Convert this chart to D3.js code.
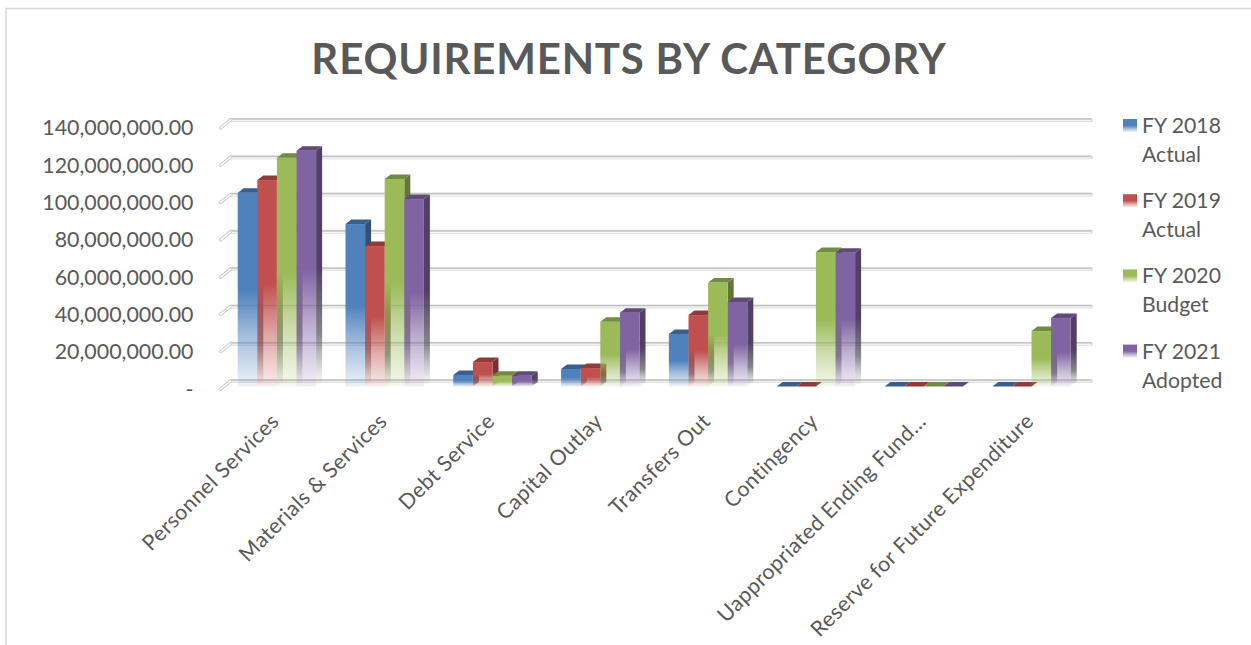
<!DOCTYPE html>
<html>
<head>
<meta charset="utf-8">
<script src="https://cdn.jsdelivr.net/npm/d3@7"></script>
<style>
  html, body { margin: 0; padding: 0; background: #fff; }
  svg { display: block; }
  text { font-family: Lato, "Open Sans", sans-serif; fill: #595959; }
</style>
</head>
<body>
<div id="chart"></div>
<script>
const categories = ["Personnel Services", "Materials & Services", "Debt Service", "Capital Outlay",
  "Transfers Out", "Contingency", "Uappropriated Ending Fund\u2026", "Reserve for Future Expenditure"];
const seriesNames = ["FY 2018 Actual", "FY 2019 Actual", "FY 2020 Budget", "FY 2021 Adopted"];
const seriesLines = [["FY 2018", "Actual"], ["FY 2019", "Actual"], ["FY 2020", "Budget"], ["FY 2021", "Adopted"]];
const colors = ["#4f81bd", "#c0504d", "#9bbb59", "#8064a2"];
const fy2018 = [103.9e6, 87.1e6, 6.2e6, 9.4e6, 28.2e6, 0, 0, 0];
const fy2019 = [110.7e6, 75.3e6, 13.1e6, 9.9e6, 38.3e6, 0, 0, 0];
const fy2020 = [122.7e6, 111.3e6, 5.8e6, 34.7e6, 55.7e6, 72.1e6, 0, 29.7e6];
const fy2021 = [126.4e6, 100.5e6, 5.8e6, 39.6e6, 45.3e6, 71.7e6, 0, 36.7e6];
const seriesValues = [fy2018, fy2019, fy2020, fy2021];
const tickValues = [0, 20e6, 40e6, 60e6, 80e6, 100e6, 120e6, 140e6];

const W = 1251, H = 645;
const svg = d3.select("#chart").append("svg").attr("width", W).attr("height", H);
const defs = svg.append("defs");

const y = d3.scaleLinear().domain([0, 140e6]).range([386.5, 125.4]);
const x0 = d3.scaleBand().domain(categories).range([223, 1085.4]).paddingInner(0.2727).paddingOuter(0.1364);
const x1 = d3.scaleBand().domain(d3.range(4)).range([0, x0.bandwidth()]);

const barDepth = { dx: 6, dy: 4.5 };   // extrusion of a bar
const wall = { back: -5.5, front: 2.6, dx: 8.5 };  // offsets of the back wall and floor edge from the bar plane

// Vertical fades shared by the front faces, side faces and legend keys
colors.forEach((c, i) => {
  const front = defs.append("linearGradient").attr("id", `front${i}`).attr("x1", 0).attr("x2", 0).attr("y1", 0).attr("y2", 1);
  front.append("stop").attr("offset", "50%").attr("stop-color", c).attr("stop-opacity", 1);
  front.append("stop").attr("offset", "75%").attr("stop-color", c).attr("stop-opacity", 0.5);
  front.append("stop").attr("offset", "100%").attr("stop-color", c).attr("stop-opacity", 0.1);
  const dark = d3.rgb(c).darker(1.3);
  const side = defs.append("linearGradient").attr("id", `side${i}`).attr("x1", 0).attr("x2", 0).attr("y1", 0).attr("y2", 1);
  side.append("stop").attr("offset", "50%").attr("stop-color", dark).attr("stop-opacity", 1);
  side.append("stop").attr("offset", "78%").attr("stop-color", "#55505a").attr("stop-opacity", 0.7);
  side.append("stop").attr("offset", "100%").attr("stop-color", "#777").attr("stop-opacity", 0);
});

// Back wall gridlines with their short returns toward the axis labels
const grid = svg.append("g").selectAll("g").data(tickValues).join("g");
const gx0 = x0.range()[0] - 2.5, gx1 = gx0 + wall.dx + 1.5, gxEnd = 1091;
grid.append("line").attr("x1", gx1).attr("x2", gxEnd)
  .attr("y1", d => y(d) + wall.back).attr("y2", d => y(d) + wall.back)
  .attr("stroke", "#dcdcdc").attr("stroke-width", 4).attr("stroke-linecap", "round");
grid.append("line").attr("x1", gx1).attr("x2", gxEnd)
  .attr("y1", d => y(d) + wall.back - 0.9).attr("y2", d => y(d) + wall.back - 0.9)
  .attr("stroke", "#bdbdbd").attr("stroke-width", 1);
grid.append("line").attr("x1", gx1).attr("x2", gxEnd)
  .attr("y1", d => y(d) + wall.back + 0.7).attr("y2", d => y(d) + wall.back + 0.7)
  .attr("stroke", "#f7f7f7").attr("stroke-width", 1);
grid.append("line").attr("x1", gx0).attr("x2", gx1)
  .attr("y1", d => y(d) + wall.front).attr("y2", d => y(d) + wall.back)
  .attr("stroke", "#cfcfcf").attr("stroke-width", 3.4).attr("stroke-linecap", "round");
grid.append("line").attr("x1", gx0).attr("x2", gx1)
  .attr("y1", d => y(d) + wall.front).attr("y2", d => y(d) + wall.back)
  .attr("stroke", "#fff").attr("stroke-width", 1.3).attr("stroke-linecap", "round");

// Extruded bars, left to right so each front face overlaps its neighbour's side
const bars = svg.append("g").selectAll("g")
  .data(categories.flatMap((cat, c) => d3.range(4).map(s => ({ cat, s, v: seriesValues[s][c] }))))
  .join("g");
const bx = d => x0(d.cat) + x1(d.s);
const w = x1.bandwidth();
const poly = pts => "M" + pts.map(p => p.join(",")).join("L") + "Z";

bars.filter(d => d.v > 0).append("path")
  .attr("d", d => poly([[bx(d) + w, y(d.v)], [bx(d) + w + barDepth.dx, y(d.v) - barDepth.dy],
    [bx(d) + w + barDepth.dx, y(0) - barDepth.dy], [bx(d) + w, y(0)]]))
  .attr("fill", d => `url(#side${d.s})`);
bars.filter(d => d.v > 0).append("rect")
  .attr("x", bx).attr("y", d => y(d.v)).attr("width", w).attr("height", d => y(0) - y(d.v))
  .attr("fill", d => `url(#front${d.s})`);
bars.append("path")
  .attr("d", d => poly([[bx(d), y(d.v)], [bx(d) + w, y(d.v)],
    [bx(d) + w + barDepth.dx, y(d.v) - barDepth.dy], [bx(d) + barDepth.dx, y(d.v) - barDepth.dy]]))
  .attr("fill", d => d3.rgb(colors[d.s]).darker(0.85));

// Value axis labels
svg.append("g").selectAll("text").data(tickValues).join("text")
  .attr("x", 193.5).attr("y", d => y(d) + wall.front)
  .attr("dy", "0.35em").attr("text-anchor", "end").attr("font-size", 21.4)
  .text(d => d === 0 ? "-" : d3.format(",.2f")(d));

// Category labels, slanted up toward their groups
svg.append("g").selectAll("text").data(categories).join("text")
  .attr("text-anchor", "end").attr("font-size", 21.3).attr("letter-spacing", 0.45)
  .attr("transform", d => `translate(${x0(d) + x0.bandwidth() / 2 - 7},${412}) rotate(-45)`)
  .attr("dy", "0.7em")
  .text(d => d);

// Title
svg.append("text").attr("x", 629).attr("y", 74).attr("text-anchor", "middle")
  .attr("font-size", 42).attr("font-weight", 700).attr("letter-spacing", 0.8)
  .text("REQUIREMENTS BY CATEGORY");

// Legend
const legend = svg.append("g").selectAll("g").data(seriesNames).join("g")
  .attr("transform", (d, i) => `translate(1123,${119 + i * 75.2})`);
legend.append("rect").attr("width", 14).attr("height", 13).attr("fill", (d, i) => `url(#front${i})`);
legend.selectAll("text").data((d, i) => seriesLines[i]).join("text")
  .attr("x", 19).attr("y", (d, i) => 14 + i * 29).attr("font-size", 21.2).text(d => d);

// Chart frame
svg.append("path").attr("d", "M6,645V8.5H1251").attr("fill", "none").attr("stroke", "#d9d9d9").attr("stroke-width", 1.5);
</script>
</body>
</html>
